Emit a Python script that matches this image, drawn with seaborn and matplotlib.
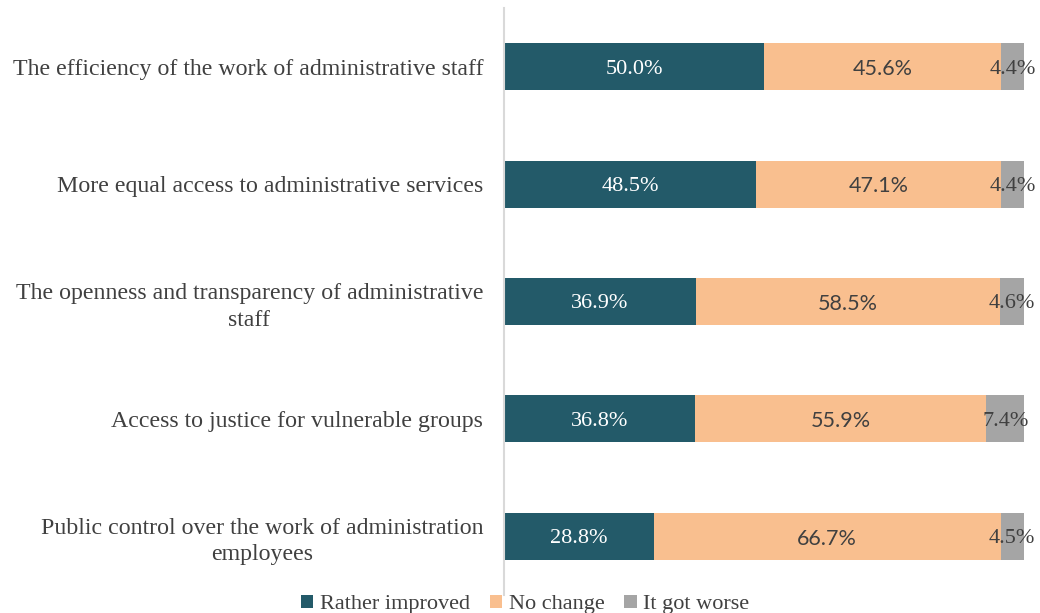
import numpy as np
import pandas as pd
import matplotlib
matplotlib.use("Agg")
import matplotlib.pyplot as plt
import seaborn as sns
from matplotlib.patches import Patch

categories = [
    "The efficiency of the work of administrative staff",
    "More equal access to administrative services",
    "The openness and transparency of administrative\nstaff",
    "Access to justice for vulnerable groups",
    "Public control over the work of administration\nemployees",
]
improved = [50.0, 48.5, 36.9, 36.8, 28.8]
no_change = [45.6, 47.1, 58.5, 55.9, 66.7]
worse = [4.4, 4.4, 4.6, 7.4, 4.5]
series_names = ["Rather improved", "No change", "It got worse"]
colors = ["#235A69", "#F9BF8F", "#A5A5A5"]

sns.set_theme(style="white")
SERIF = ["Liberation Serif", "DejaVu Serif"]
SANS = ["Lato", "DejaVu Sans"]
plt.rcParams["font.family"] = SERIF

df = pd.DataFrame({
    "category": categories,
    "improved": improved,
    "no_change": no_change,
    "worse": worse,
})
df["c1"] = df["improved"]
df["c2"] = df["improved"] + df["no_change"]
df["c3"] = df["c2"] + df["worse"]

fig = plt.figure(figsize=(10.4, 6.13), dpi=100)
ax = fig.add_axes([0.4846, 0.0294, 0.5, 0.9576])

# stacked bars drawn back to front from cumulative totals
for col, color in zip(["c3", "c2", "c1"], colors[::-1]):
    sns.barplot(data=df, x=col, y="category", orient="h", color=color,
                width=0.4, saturation=1, ax=ax, linewidth=0)

ax.set_xlim(0, 100)
ax.set_ylim(len(categories) - 0.5, -0.5)
ax.set_xlabel("")
ax.set_ylabel("")
ax.set_xticks([])
for s in ["top", "right", "bottom"]:
    ax.spines[s].set_visible(False)
ax.spines["left"].set_color("#D9D9D9")
ax.spines["left"].set_linewidth(1.5)
ax.tick_params(axis="y", length=0, pad=15)
for lab in ax.get_yticklabels():
    lab.set_fontsize(17.2)
    lab.set_family(SERIF)
    lab.set_color("#404040")
    lab.set_multialignment("center")
    lab.set_linespacing(1.35)

dy = 0.02  # nudge labels down to sit on the bar centre
for i in range(len(categories)):
    ax.text(improved[i] / 2, i + dy, f"{improved[i]:.1f}%", ha="center",
            va="center", color="white", fontsize=16, family=SERIF)
    ax.text(improved[i] + no_change[i] / 2, i + dy, f"{no_change[i]:.1f}%",
            ha="center", va="center", color="#404040", fontsize=15.5, family=SANS)
    ax.text(improved[i] + no_change[i] + worse[i] / 2, i + dy, f"{worse[i]:.1f}%",
            ha="center", va="center", color="#404040", fontsize=16, family=SERIF)

handles = [Patch(facecolor=c, edgecolor="none") for c in colors]
fig.legend(handles, series_names, loc="lower center", ncol=3, frameon=False,
           bbox_to_anchor=(0.505, -0.035), prop={"family": SERIF, "size": 16},
           handlelength=0.55, handleheight=0.55, handletextpad=0.3,
           columnspacing=0.9, labelcolor="#404040")

fig.savefig("out.png", dpi=100)
